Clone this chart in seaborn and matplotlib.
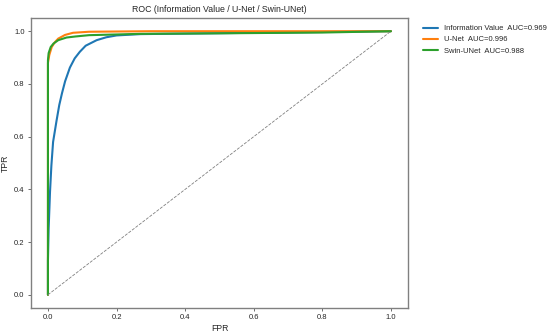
import numpy as np
import pandas as pd
import matplotlib
matplotlib.use("Agg")
import matplotlib.pyplot as plt
import seaborn as sns

sns.set_theme(style="ticks")
plt.rcParams['font.family'] = ['Liberation Sans', 'DejaVu Sans']

# ROC points
iv_fpr = [0.0, 0.0, 0.002, 0.006, 0.01, 0.015, 0.025, 0.033, 0.041, 0.05, 0.064, 0.078, 0.093, 0.11, 0.142, 0.17, 0.2, 0.27, 0.4, 0.6, 0.8, 1.0]
iv_tpr = [0.0, 0.13, 0.25, 0.39, 0.49, 0.58, 0.66, 0.72, 0.765, 0.81, 0.862, 0.897, 0.922, 0.945, 0.966, 0.977, 0.984, 0.989, 0.991, 0.994, 0.997, 1.0]

un_fpr = [0.0, 0.0, 0.004, 0.011, 0.02, 0.03, 0.05, 0.073, 0.12, 0.3, 0.6, 0.85, 1.0]
un_tpr = [0.0, 0.88, 0.91, 0.94, 0.958, 0.972, 0.986, 0.994, 0.998, 1.0, 1.0, 1.0, 1.0]

sw_fpr = [0.0, 0.0, 0.002, 0.008, 0.016, 0.03, 0.054, 0.08, 0.12, 0.27, 0.5, 0.8, 1.0]
sw_tpr = [0.0, 0.89, 0.917, 0.94, 0.953, 0.966, 0.976, 0.98, 0.985, 0.99, 0.992, 0.995, 1.0]

labels = ["Information Value  AUC=0.969", "U-Net  AUC=0.996", "Swin-UNet  AUC=0.988"]
colors = ["#1f77b4", "#ff7f0e", "#2ca02c"]

frames = []
for lab, fx, fy in zip(labels, [iv_fpr, un_fpr, sw_fpr], [iv_tpr, un_tpr, sw_tpr]):
    frames.append(pd.DataFrame({"FPR": fx, "TPR": fy, "model": lab}))
df = pd.concat(frames, ignore_index=True)

fig = plt.figure(figsize=(5.5, 3.34), dpi=100)
ax = fig.add_axes([0.056, 0.078, 0.686, 0.868])

sns.lineplot(data=df, x="FPR", y="TPR", hue="model", estimator=None, sort=False,
             palette=colors, linewidth=1.5, ax=ax)
ax.plot([0, 1], [0, 1], linestyle="--", color="gray", linewidth=0.6)

ax.set_title("ROC (Information Value / U-Net / Swin-UNet)", fontsize=6.3, pad=4)
ax.set_xlabel("FPR", fontsize=6.2, labelpad=2)
ax.set_ylabel("TPR", fontsize=6.2, labelpad=3)
ax.tick_params(labelsize=5.5, length=2.5, width=0.6, pad=2, color="#555555")
ax.set_xticks([0.0, 0.2, 0.4, 0.6, 0.8, 1.0])
ax.set_yticks([0.0, 0.2, 0.4, 0.6, 0.8, 1.0])
for s in ax.spines.values():
    s.set_color("#808080")
    s.set_linewidth(1.0)

leg = ax.legend(loc="upper left", bbox_to_anchor=(1.02, 1.0), frameon=False,
                fontsize=5.5, title=None, handlelength=2.0)
for h in leg.get_lines():
    h.set_linewidth(1.5)

fig.savefig("out.png", dpi=100)
